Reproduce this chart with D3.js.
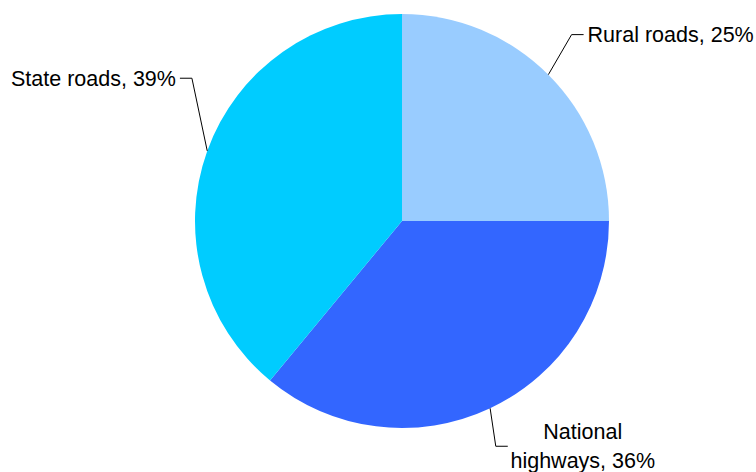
<!DOCTYPE html>
<html>
<head>
<meta charset="utf-8">
<script src="https://cdn.jsdelivr.net/npm/d3@7"></script>
<style>
  body { margin: 0; background: #fff; }
  text { font-family: "Liberation Sans", Arial, sans-serif; font-size: 21.5px; fill: #000; }
</style>
</head>
<body>
<svg id="chart"></svg>
<script>
// data
var categories = ["Rural roads", "National highways", "State roads"];
var shares = [25, 36, 39];
var colors = ["#99CCFF", "#3366FF", "#00CCFF"];
var labelLines = [["Rural roads, 25%"], ["National", "highways, 36%"], ["State roads, 39%"]];

var width = 756, height = 472;
var cx = 402, cy = 221, radius = 207;

var svg = d3.select("#chart")
    .attr("width", width)
    .attr("height", height);

var g = svg.append("g")
    .attr("transform", "translate(" + cx + "," + cy + ")");

var pie = d3.pie().sort(null).value(function(d) { return d; });
var arcs = pie(shares);

var arc = d3.arc().innerRadius(0).outerRadius(radius);

g.selectAll("path")
    .data(arcs)
    .enter()
    .append("path")
    .attr("d", arc)
    .style("fill", function(d, i) { return colors[i]; });

// label placement: elbow sits a bit outside the pie, nudged so text fits
var elbowR = [252, 244, 254];
var elbowShift = [-2.7, 2.6, 14.4]; // degrees
function polar(r, a) { return [r * Math.sin(a), -r * Math.cos(a)]; }

arcs.forEach(function(d, i) {
    var mid = (d.startAngle + d.endAngle) / 2;
    var p0 = polar(radius, mid);
    var p1 = polar(elbowR[i], mid + elbowShift[i] * Math.PI / 180);
    var right = Math.sin(mid) > 0;
    var p2 = [p1[0] + (right ? 12 : -12), p1[1]];

    g.append("polyline")
        .attr("points", [p0, p1, p2].map(function(p) { return p.join(","); }).join(" "))
        .style("fill", "none")
        .style("stroke", "#000")
        .style("stroke-width", 1);

    var lines = labelLines[i];
    var t = g.append("text")
        .attr("text-anchor", lines.length > 1 ? "middle" : (right ? "start" : "end"));
    var lh = 29;
    var x = lines.length > 1 ? p2[0] + 75 : p2[0] + (right ? 4 : -4);
    lines.forEach(function(s, k) {
        t.append("tspan")
            .attr("x", x)
            .attr("y", p2[1] + (k - (lines.length - 1) / 2) * lh)
            .attr("dy", "0.35em")
            .text(s);
    });
});
</script>
</body>
</html>
